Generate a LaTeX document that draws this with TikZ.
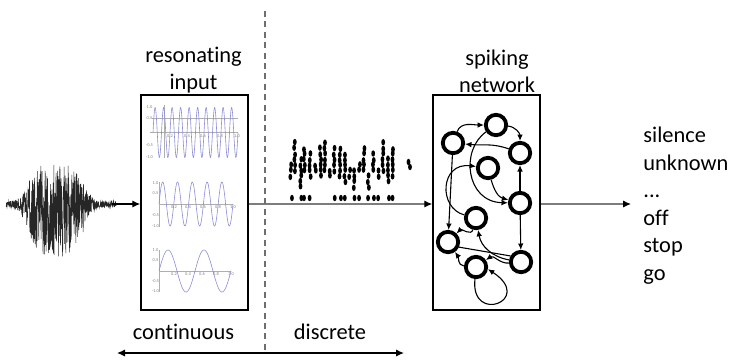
\documentclass[tikz,border=0pt]{standalone}
\usepackage{fontspec}
\setmainfont[Ligatures=NoCommon]{Carlito}
\usetikzlibrary{arrows.meta,positioning}

\definecolor{wavecol}{RGB}{140,140,215}
\definecolor{axiscol}{RGB}{175,175,175}
\definecolor{flowcol}{RGB}{125,125,125}
\definecolor{dashcol}{RGB}{110,110,110}

\tikzset{
	caption/.style = {align=center, inner sep=0pt, font=\fontsize{11.2}{13.75}\selectfont},
	panel/.style = {draw, line width=0.75pt, minimum width=53.5pt, minimum height=107.5pt, inner sep=0pt},
	neuron/.style = {circle, draw, line width=1.9pt, minimum size=10.2pt, inner sep=0pt},
	edge/.style = {-{Latex[length=3.2pt, width=2.8pt]}, line width=0.55pt},
	flow/.style = {-{Latex[length=4pt, width=3.6pt, color=black]}, flowcol, line width=0.6pt},
	wave/.style = {wavecol, line width=0.3pt},
	axis/.style = {axiscol, line width=0.25pt},
	tick/.style = {inner sep=0pt, text=gray, font=\fontsize{2.2}{2.4}\selectfont},
	declare function = {env(\t) = 3 + 44*exp(-((\t-56)/30)^4);}
}

\begin{document}
\begin{tikzpicture}[x=0.5pt, y=-0.5pt]
	\useasboundingbox (0, 0) rectangle (731, 361);
	
	% sound
	\pgfmathsetseed{4}
	\draw [line width=0.3pt, black!85] plot [domain=6:116, samples=440, variable=\t] (\t, {204 + env(\t)*(2*rnd - 0.88)});
	\coordinate (wave end) at (112, 204);
	
	\node [panel] (res box) at (194.5, 202.5) {};
	\node [panel] (net box) at (486.5, 202.5) {};
	\node [caption, anchor=south] (res label) at (193.5, 93.5) {resonating\\input};
	\node [caption, anchor=south] (net label) at (497, 93.5) {spiking\\network};
	
	% resonator plots
	\draw [axis] (150, 132.5) -- (238, 132.5);
	\draw [axis] (152, 118) -- (238, 118);
	\draw [axis] (164, 105) -- (164, 158);
	\draw [wave] plot [domain=153:238, samples=300, variable=\t] (\t, {132.5 - 25*sin(42.353*(\t - 153))});
	\foreach \v/\y [count=\i] in {1.0/107, 0.5/118, -0.5/145, -1.0/157}
		\node [tick] (ya\i) at (149.5, \y) {\v};
	\foreach \v/\x [count=\i] in {0.2/170, 0.4/187, 0.6/203, 0.8/220, 1.0/237}
		\node [tick] (xa\i) at (\x, 136) {\v};
	
	\draw [axis] (159, 204) -- (233, 204);
	\draw [axis] (159, 182) -- (159, 227);
	\draw [wave] plot [domain=159:233, samples=200, variable=\t] (\t, {204 - 22*sin(24.324*(\t - 159))});
	\foreach \v/\y [count=\i] in {1.0/183, 0.5/193, -0.5/215, -1.0/226}
		\node [tick] (yb\i) at (155.5, \y) {\v};
	\foreach \v/\x [count=\i] in {0.2/174, 0.4/188, 0.6/203, 0.8/218, 1.0/233}
		\node [tick] (xb\i) at (\x, 207) {\v};
	
	\draw [axis] (159, 271) -- (231, 271);
	\draw [axis] (159, 250) -- (159, 292);
	\draw [wave] plot [domain=159:231, samples=120, variable=\t] (\t, {271 - 21*sin(10*(\t - 159))});
	\foreach \v/\y [count=\i] in {1.0/250, 0.5/260, -0.5/281, -1.0/291}
		\node [tick] (yc\i) at (155.5, \y) {\v};
	\foreach \v/\x [count=\i] in {0.2/174, 0.4/188, 0.6/202, 0.8/216, 1.0/231}
		\node [tick] (xc\i) at (\x, 274) {\v};
	
	% spikes
	\pgfmathsetseed{17}
	\foreach \i in {0,...,21} {
		\pgfmathsetmacro{\xx}{289 + 4.9*\i + 1.5*rnd}
		\pgfmathtruncatemacro{\nn}{2 + random(0,4)}
		\pgfmathtruncatemacro{\lo}{random(1,4)}
		\foreach \k in {1,...,\nn} {
			\pgfmathsetmacro{\yy}{197 - 5.5*(\lo + \k) + 2*rnd}
			\fill (\xx + 1.2*rnd, \yy) ellipse [x radius=0.95pt, y radius=1.6pt];
		}
		\pgfmathtruncatemacro{\bot}{random(0,2)}
		\ifnum\bot>0
			\fill (\xx + 2*rnd, 198) ellipse [x radius=0.95pt, y radius=1.6pt];
		\fi
	}
	\fill (408.5, 162) ellipse [x radius=0.95pt, y radius=1.6pt];
	\fill (410, 167) ellipse [x radius=0.95pt, y radius=1.6pt];
	
	% network
	\node [neuron] (n1) at (496, 125) {};
	\node [neuron] (n2) at (453, 143) {};
	\node [neuron] (n3) at (520, 153) {};
	\node [neuron] (n4) at (488, 168) {};
	\node [neuron] (n5) at (520, 203) {};
	\node [neuron] (n6) at (476, 218) {};
	\node [neuron] (n7) at (448, 242) {};
	\node [neuron] (n8) at (521, 262) {};
	\node [neuron] (n9) at (476, 267) {};
	
	\draw [edge] (n2) to [out=70, in=180] (n1);
	\draw [edge] (n1) to [out=-5, in=90] (n3);
	\draw [edge] (n3) to [out=160, in=-5] (n2);
	\draw [edge] (n1) .. controls (460, 150) and (466, 202) .. (n5);
	\draw [edge] (n4) to [out=-75, in=165] (n5);
	\draw [edge] (n6) .. controls (438, 208) and (440, 162) .. (n4);
	\draw [edge] (n2) -- (n7);
	\draw [edge] (n5) -- (n3);
	\draw [edge] (n5) -- (n8);
	\draw [edge] (n6) to [out=-105, in=45] (n7);
	\draw [line width=0.55pt] (n7.-25) -- (n8.150);
	\draw [edge] (n8) to [out=170, in=-80] (n6);
	\draw [edge] (n8) to [out=185, in=35] (n9);
	\draw [edge] (n9.-95) .. controls (470, 325) and (535, 300) .. (n9.-10);
	\draw [edge] (n9) to [out=175, in=-55] (n7);
	
	% arrows
	\draw [flow, black] (wave end) -- (wave end -| res box.west);
	\draw [flow] (res box.east |- wave end) -- (net box.west |- wave end);
	\coordinate (out end) at (631, 204);
	\draw [flow] (net box.east |- wave end) -- (out end);
	\node [caption, align=left, anchor=north west] (classes) at (643, 127) {silence\\unknown\\...\\off\\stop\\go};
	
	\draw [dashcol, line width=0.8pt, dash pattern=on 3pt off 2.2pt] (265, 11) -- (265, 352);
	
	\coordinate (span left) at (117, 353);
	\coordinate (span right) at (404, 353);
	\draw [{Latex[length=4pt, width=3.6pt]}-{Latex[length=4pt, width=3.6pt]}, line width=0.6pt] (span left) -- (span right);
	\node [caption] (cont label) at (183.5, 332) {continuous};
	\node [caption] (disc label) at (330, 332) {discrete};
\end{tikzpicture}
\end{document}
